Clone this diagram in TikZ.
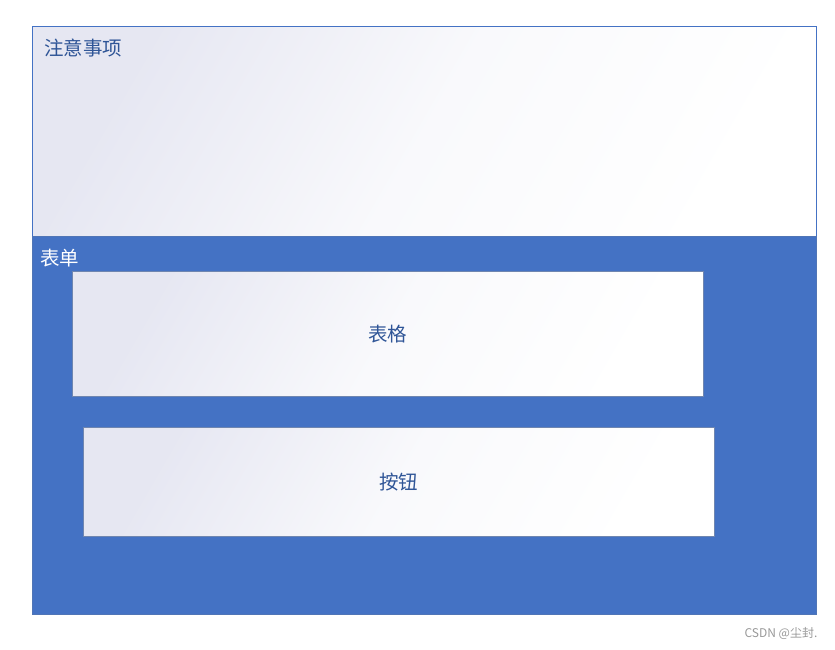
\documentclass[tikz,border=0pt]{standalone}
\usepackage{fontspec}
\newfontfamily\cjk{Noto Sans CJK SC}
\definecolor{ablue}{HTML}{4472C4}
\definecolor{dblue}{HTML}{2F5597}
\definecolor{lav}{HTML}{E6E7F2}
\definecolor{edge}{HTML}{6F86B0}
\begin{document}
\begin{tikzpicture}[x=1pt,y=1pt,
  panel/.style={draw=edge, line width=0.8pt, top color=lav, bottom color=white, middle color=lav!25!white, shading angle=60, inner sep=0pt, anchor=south west},
  lbl/.style={font=\cjk\fontsize{19.5}{22}\selectfont, text=dblue, inner sep=0pt}]
\useasboundingbox (0,0) rectangle (835,649);
\fill[white] (0,0) rectangle (835,649);
% top panel
\node[panel, draw=ablue, line width=1pt, minimum width=784pt, minimum height=210pt] (top) at (32,412) {};
% blue form panel
\node[draw=ablue!80!gray, line width=1pt, fill=ablue, minimum width=784pt, minimum height=378pt, anchor=south west, inner sep=0pt] (form) at (32,34) {};
% inner boxes
\node[panel, minimum width=631pt, minimum height=125pt] (table) at (72,252) {};
\node[panel, minimum width=631pt, minimum height=109pt] (btn) at (83,112) {};
% labels
\node[lbl, anchor=west] (t1) at (44,601) {注意事项};
\node[lbl, anchor=west, text=white] (t2) at (40,391) {表单};
\node[lbl] (t3) at (table.center) {表格};
\node[lbl] (t4) at (btn.center) {按钮};
\node[font=\cjk\fontsize{12}{13}\selectfont, text=gray!80, inner sep=0pt] (wm) at (781,16) {CSDN @尘封.};
\end{tikzpicture}
\end{document}
